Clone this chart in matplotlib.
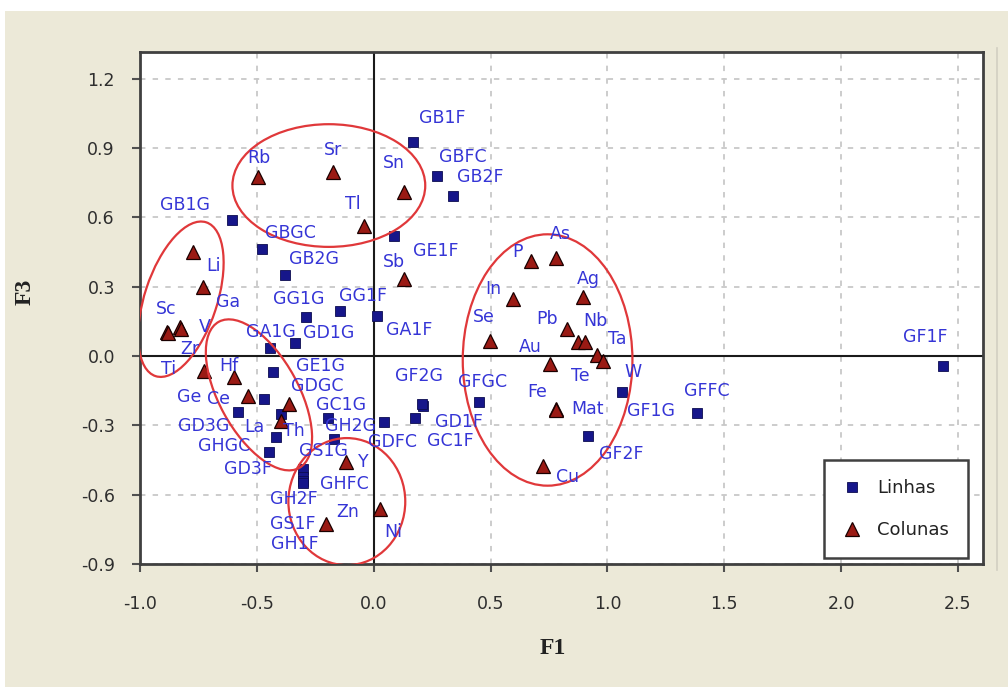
import matplotlib
matplotlib.use("Agg")
import matplotlib.pyplot as plt
from matplotlib.patches import Ellipse, Rectangle
from matplotlib.lines import Line2D

plt.rcParams['axes.unicode_minus'] = False
plt.rcParams['font.family'] = ['DejaVu Sans']

# ---- Row profiles (Linhas): coordinates on factors F1 and F3 ----
row_labels = ["GB1F", "GBFC", "GB2F", "GE1F", "GB1G", "GBGC", "GB2G", "GG1G",
              "GG1F", "GA1F", "GA1G", "GD1G", "GE1G", "GDGC", "GD3G",
              "GC1G", "GHGC", "GD3F", "GH2G", "GS1G", "GHFC", "GH2F", "GS1F",
              "GH1F", "GDFC", "GC1F", "GD1F", "GF2G", "GFGC", "GF1G", "GF2F",
              "GFFC", "GF1F"]
row_f1 = [0.167, 0.269, 0.338, 0.085, -0.607, -0.479, -0.380, -0.291,
          -0.145, 0.013, -0.444, -0.338, -0.432, -0.470, -0.581,
          -0.397, -0.419, -0.449, -0.197, -0.171, -0.303, -0.303, -0.303,
          -0.303, 0.043, 0.175, 0.209, 0.205, 0.449, 1.064, 0.915,
          1.385, 2.436]
row_f3 = [0.928, 0.781, 0.691, 0.518, 0.591, 0.462, 0.350, 0.168,
          0.194, 0.173, 0.035, 0.056, -0.069, -0.186, -0.242,
          -0.250, -0.350, -0.414, -0.268, -0.358, -0.488, -0.522, -0.539,
          -0.548, -0.285, -0.268, -0.216, -0.207, -0.199, -0.155, -0.345,
          -0.246, -0.043]

# ---- Column profiles (Colunas): elements ----
col_labels = ["Rb", "Sr", "Tl", "Sn", "Sb", "Li", "Ga", "Sc", "Ti", "V", "Zr",
              "Ge", "Hf", "Ce", "Th", "La", "Y", "Zn", "Ni", "P", "As", "Ag",
              "In", "Se", "Pb", "Nb", "Ta", "Au", "Te", "W", "Fe", "Mat", "Cu"]
col_f1 = [-0.496, -0.175, -0.043, 0.128, 0.128, -0.774, -0.731, -0.885, -0.880,
          -0.829, -0.825, -0.726, -0.598, -0.538, -0.363, -0.397, -0.120,
          -0.205, 0.026, 0.671, 0.778, 0.897, 0.594, 0.496, 0.829, 0.876,
          0.902, 0.756, 0.957, 0.979, 0.778, 0.782, 0.726]
col_f3 = [0.777, 0.798, 0.561, 0.712, 0.332, 0.449, 0.298, 0.104, 0.099,
          0.125, 0.117, -0.065, -0.091, -0.173, -0.207, -0.281, -0.457,
          -0.725, -0.660, 0.410, 0.423, 0.255, 0.246, 0.065, 0.117, 0.060,
          0.060, -0.035, 0.004, -0.022, -0.229, -0.233, -0.475]

x_ticks = [-1.0, -0.5, 0.0, 0.5, 1.0, 1.5, 2.0, 2.5]
y_ticks = [-0.9, -0.6, -0.3, 0.0, 0.3, 0.6, 0.9, 1.2]

# Label placement (offset in pixels from each marker)
row_label_offsets = {
    "GB1F": (30, 24), "GBFC": (26, 19), "GB2F": (28, 19), "GE1F": (42, -15),
    "GB1G": (-47, 15), "GBGC": (29, 16), "GB2G": (29, 16), "GG1G": (-7, 18),
    "GG1F": (23, 15), "GA1F": (32, -14), "GA1G": (1, 16), "GD1G": (34, 10),
    "GE1G": (48, 6), "GDGC": (53, 13), "GD3G": (-34, -14),
    "GC1G": (60, 9), "GHGC": (-52, -9), "GD3F": (-21, -17), "GH2G": (23, -8),
    "GS1G": (-10, -12), "GHFC": (41, -15), "GH2F": (-9, -22), "GS1F": (-10, -43),
    "GH1F": (-8, -61), "GDFC": (9, -20), "GC1F": (36, -23), "GD1F": (36, -16),
    "GF2G": (-3, 28), "GFGC": (4, 20), "GF1G": (29, -19), "GF2F": (34, -18),
    "GFFC": (9, 22), "GF1F": (-18, 29),
}
col_label_offsets = {
    "Rb": (1, 19), "Sr": (0, 22), "Tl": (-11, 22), "Sn": (-10, 29),
    "Sb": (-10, 17), "Li": (21, -14), "Ga": (25, -15), "Sc": (-1, 23),
    "Ti": (1, -36), "V": (25, 0), "Zr": (9, -20), "Ge": (-15, -26),
    "Hf": (-5, 11), "Ce": (-29, -3), "Th": (5, -27), "La": (-27, -6),
    "Y": (18, 0), "Zn": (22, 12), "Ni": (13, -23), "P": (-13, 9),
    "As": (5, 24), "Ag": (5, 18), "In": (-19, 10), "Se": (-6, 24),
    "Pb": (-20, 10), "Nb": (17, 21), "Ta": (33, 3), "Au": (-20, 17),
    "Te": (-17, -21), "W": (30, -11), "Fe": (-18, 17), "Mat": (31, 1),
    "Cu": (24, -11),
}

# Group outlines: (center x, center y, width, height, angle)
groups = [
    (-0.192, 0.738, 0.825, 0.531, 0),
    (-0.825, 0.246, 0.70, 0.31, 72),
    (-0.491, -0.168, 0.72, 0.34, -61.6),
    (-0.115, -0.630, 0.50, 0.55, 0),
    (0.744, -0.017, 0.726, 1.088, 0),
]

W, H = 1008, 687
fig = plt.figure(figsize=(W / 100, H / 100), dpi=100, facecolor="white")
fig.patches.append(Rectangle((5 / W, 0), 1 - 5 / W, (H - 11) / H,
                             transform=fig.transFigure, facecolor="#ECE9D8",
                             edgecolor="none", zorder=-10))
fig.lines.append(Line2D([997 / W, 997 / W], [(H - 570) / H, (H - 48) / H],
                        transform=fig.transFigure, color="#d2cfc2", lw=1.2))

ax = fig.add_axes([140 / W, (H - 564) / H, 843 / W, 512 / H])
ax.set_facecolor("white")
ax.set_xlim(-1.0, 2.607)
ax.set_ylim(-0.9, 1.316)
ax.set_xticks(x_ticks)
ax.set_yticks(y_ticks)
ax.set_xticklabels([f"{v:.1f}" for v in x_ticks])
ax.set_yticklabels([f"{v:.1f}" for v in y_ticks])
ax.tick_params(axis="both", direction="out", length=6, width=1.5,
               color="#505050", labelsize=12.5, labelcolor="#2e2e2e")
ax.tick_params(axis="x", pad=16)
ax.tick_params(axis="y", pad=12)
for sp in ax.spines.values():
    sp.set_color("#404040")
    sp.set_linewidth(2)

ax.grid(True, color="#c8c8c8", linestyle=(0, (3, 4)), linewidth=1.3)
ax.set_axisbelow(True)
ax.axhline(0, color="#1a1a1a", lw=1.5, zorder=1)
ax.axvline(0, color="#1a1a1a", lw=1.5, zorder=1)

ax.plot(row_f1, row_f3, linestyle="none", marker="s", markersize=7,
        markerfacecolor="#16168a", markeredgecolor="#0c0c50",
        markeredgewidth=0.6, zorder=3, label="Linhas")
ax.plot(col_f1, col_f3, linestyle="none", marker="^", markersize=10,
        markerfacecolor="#9a1a14", markeredgecolor="#1a0000",
        markeredgewidth=0.9, zorder=3, label="Colunas")

label_kw = dict(textcoords="offset pixels", ha="center", va="center",
                fontsize=12.5, color="#3535d6", zorder=5)
for name, x, y in zip(row_labels, row_f1, row_f3):
    ax.annotate(name, (x, y), xytext=row_label_offsets[name], **label_kw)
for name, x, y in zip(col_labels, col_f1, col_f3):
    ax.annotate(name, (x, y), xytext=col_label_offsets[name], **label_kw)

for cx, cy, w, h, ang in groups:
    ax.add_patch(Ellipse((cx, cy), w, h, angle=ang, fill=False,
                         edgecolor="#e0383a", lw=1.6, zorder=4))

leg = ax.legend(loc="lower right", bbox_to_anchor=(0.982, 0.012),
                borderaxespad=0, fontsize=13, frameon=True, fancybox=False,
                handletextpad=0.9, labelspacing=1.3, borderpad=1.05,
                handlelength=1.0, labelcolor="#222222")
leg.get_frame().set_edgecolor("#404040")
leg.get_frame().set_linewidth(1.8)
leg.get_frame().set_facecolor("white")
leg.get_frame().set_alpha(1)
leg.set_zorder(6)

fig.text(553 / W, (H - 648) / H, "F1", ha="center", va="center",
         family="Liberation Serif", fontweight="bold", fontsize=17, color="#222222")
fig.text(25 / W, (H - 292) / H, "F3", ha="center", va="center", rotation=90,
         family="Liberation Serif", fontweight="bold", fontsize=17, color="#222222")

fig.savefig("out.png", dpi=100, facecolor=fig.get_facecolor())
